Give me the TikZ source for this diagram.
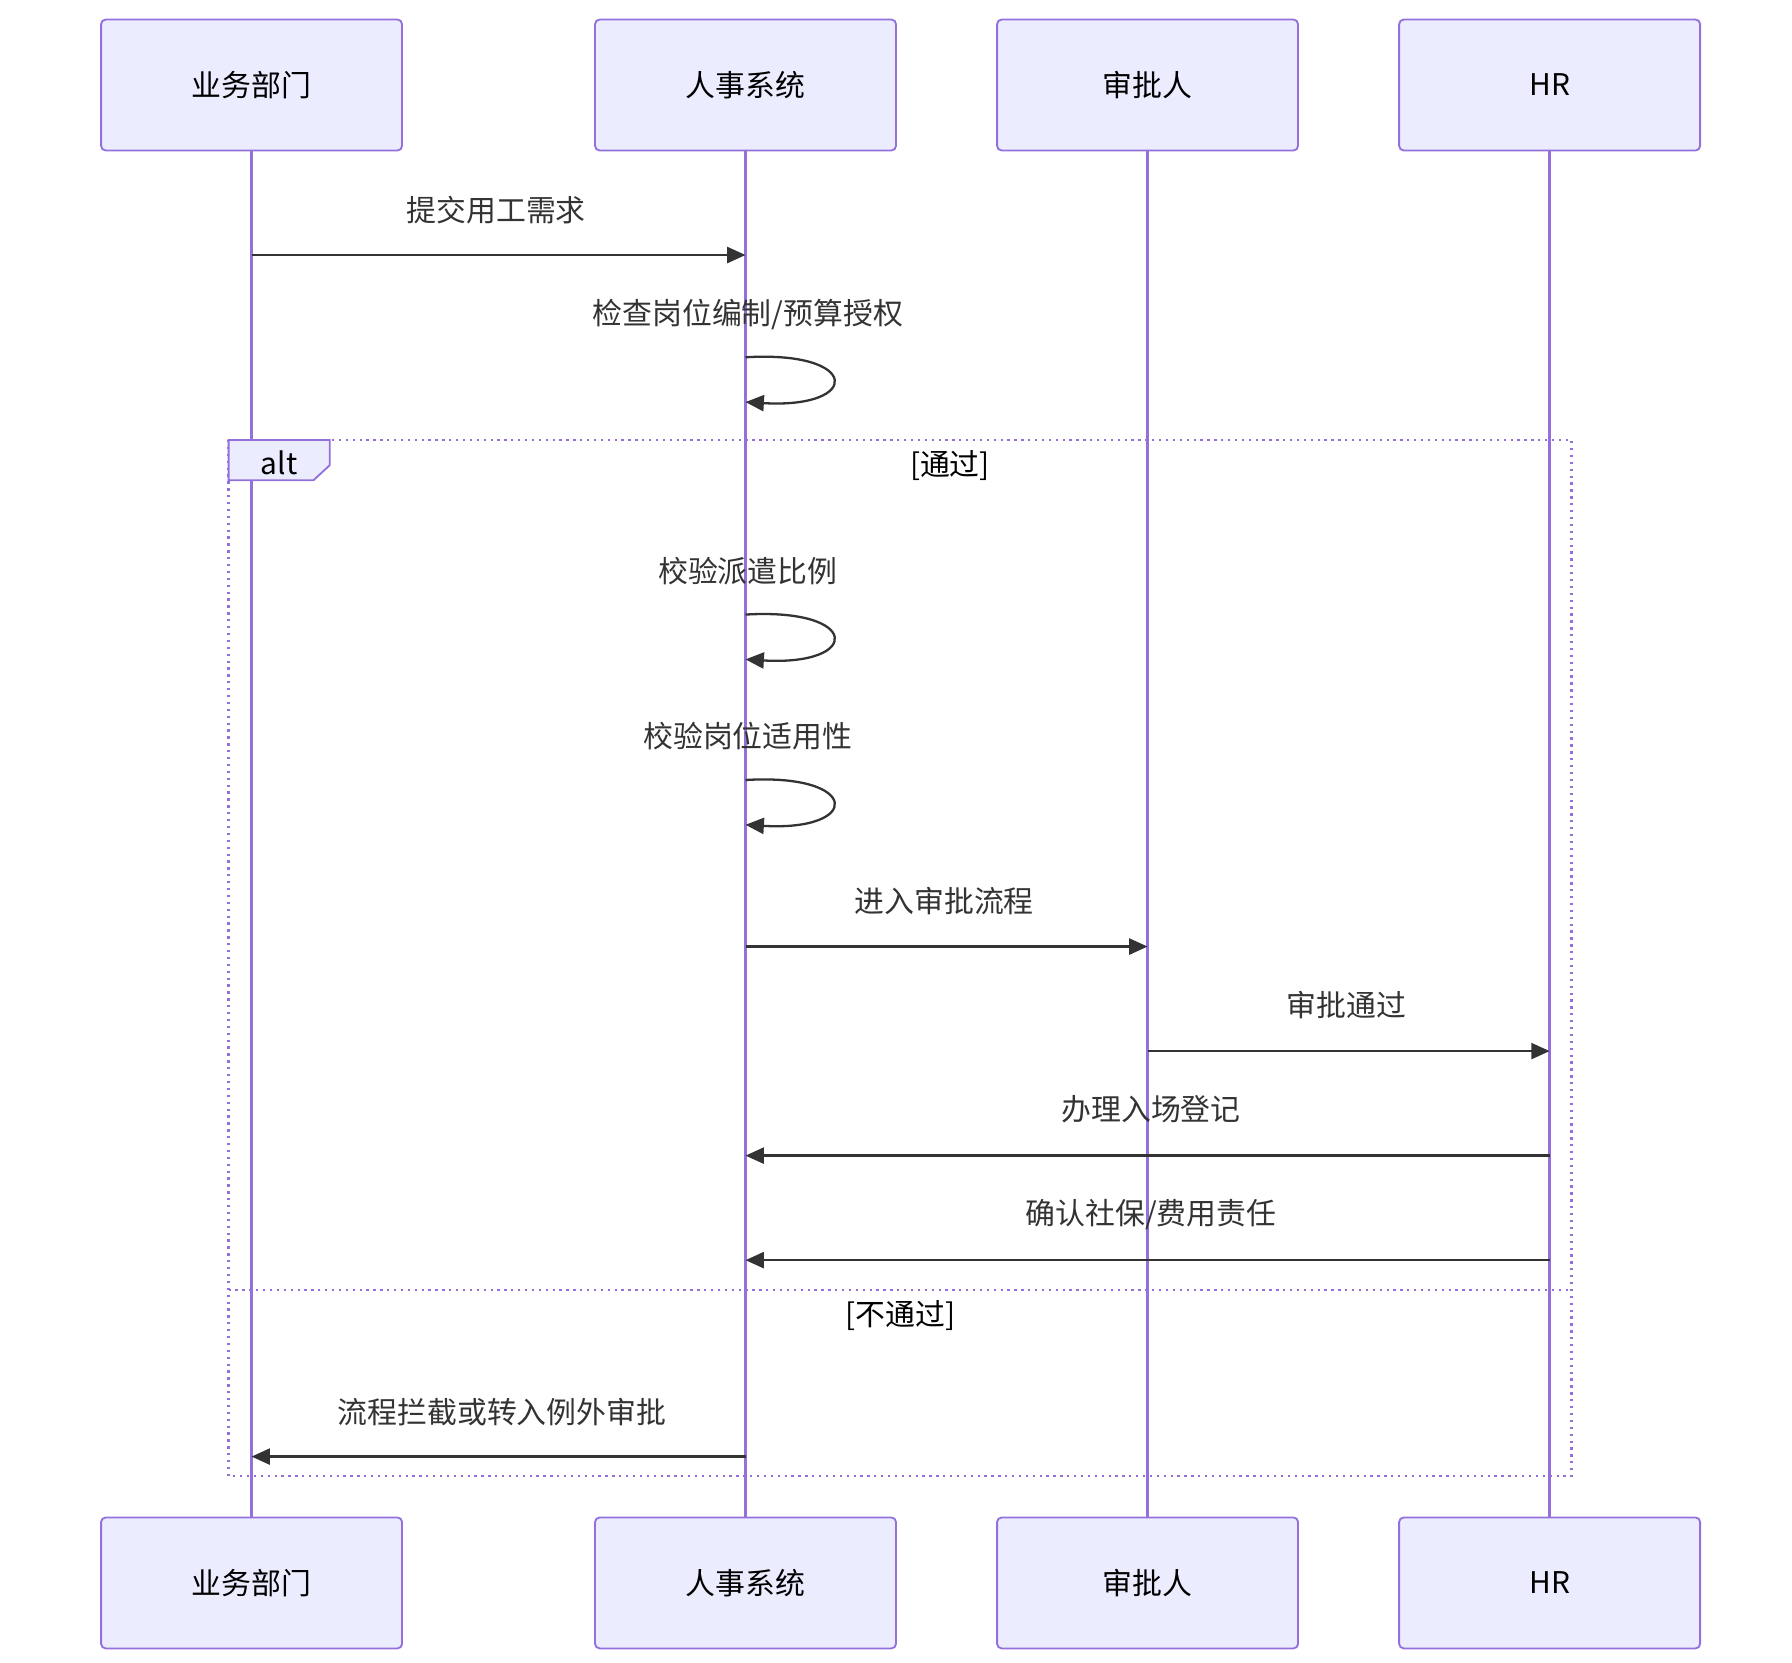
\documentclass[tikz,border=0pt]{standalone}
\usepackage{fontspec}
\setmainfont{Noto Sans CJK SC}
\usetikzlibrary{arrows.meta}
\definecolor{boxfill}{HTML}{ECECFF}
\definecolor{boxline}{HTML}{9370DB}
\definecolor{msg}{HTML}{333333}
\begin{document}
\begin{tikzpicture}[x=0.5pt,y=-0.5pt,
 actor/.style={draw=boxline,fill=boxfill,line width=0.8pt,rounded corners=2pt,minimum width=131pt,minimum height=57pt,font=\fontsize{13}{15}\selectfont,inner sep=0},
 life/.style={draw=boxline,line width=1.2pt},
 arr/.style={draw=msg,line width=1pt,-{Triangle[length=8pt,width=7pt]}},
 lbl/.style={font=\fontsize{13}{15}\selectfont,text=msg},
 frame/.style={draw=boxline,line width=1pt,dotted}]
\useasboundingbox (0,0) rectangle (1560,1447);
\foreach \n/\x/\t in {a/219/业务部门,b/649/人事系统,c/999/审批人,d/1349/HR}{
  \node[actor] (\n t) at (\x,74) {\t};
  \node[actor] (\n b) at (\x,1378) {\t};
  \draw[life] (\n t.south) -- (\n b.north);
}
% alt frame
\draw[frame] (199,383) rectangle (1368,1285);
\draw[frame] (199,1123) -- (1368,1123);
\node[draw=boxline,fill=boxfill,line width=0.8pt,inner sep=0,minimum width=0] (alt) at (243,400) {};
\fill[boxfill] (199,383) -- (287,383) -- (287,405) -- (273,418) -- (199,418) -- cycle;
\draw[boxline,line width=0.8pt] (199,383) -- (287,383) -- (287,405) -- (273,418) -- (199,418) -- cycle;
\node[lbl,text=black] (altl) at (243,403) {alt};
\node[lbl,text=black] (g1) at (827,405) {[通过]};
\node[lbl,text=black] (g2) at (784,1145) {[不通过]};
% coordinates
\foreach \n/\x in {a/219,b/649,c/999,d/1349}{
 \foreach \y in {222,311,350,535,574,679,718,824,915,1006,1097,1268}{
  \coordinate (\n\y) at (\x,\y);}}
\node[lbl] (m1) at (432,183) {提交用工需求};
\draw[arr] (a222) -- (b222);
\node[lbl] (m2) at (651,274) {检查岗位编制/预算授权};
\draw[arr] (b311) .. controls (750,305) and (750,356) .. (b350);
\node[lbl] (m3) at (651,497) {校验派遣比例};
\draw[arr] (b535) .. controls (750,529) and (750,580) .. (b574);
\node[lbl] (m4) at (651,641) {校验岗位适用性};
\draw[arr] (b679) .. controls (750,673) and (750,724) .. (b718);
\node[lbl] (m5) at (822,784) {进入审批流程};
\draw[arr] (b824) -- (c824);
\node[lbl] (m6) at (1172,875) {审批通过};
\draw[arr] (c915) -- (d915);
\node[lbl] (m7) at (1002,966) {办理入场登记};
\draw[arr] (d1006) -- (b1006);
\node[lbl] (m8) at (1002,1057) {确认社保/费用责任};
\draw[arr] (d1097) -- (b1097);
\node[lbl] (m9) at (437,1229) {流程拦截或转入例外审批};
\draw[arr] (b1268) -- (a1268);
\end{tikzpicture}
\end{document}
